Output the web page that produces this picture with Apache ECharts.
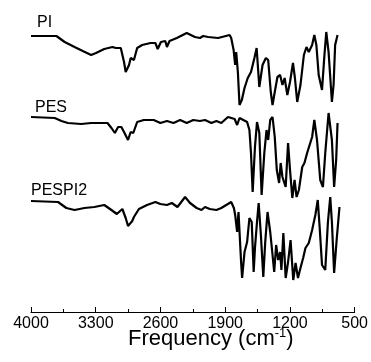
<!DOCTYPE html>
<html>
<head>
<meta charset="utf-8">
<script src="https://cdn.jsdelivr.net/npm/echarts@6/dist/echarts.min.js"></script>
<style>
  html, body { margin: 0; padding: 0; background: #fff; }
  #chart { width: 371px; height: 362px; }
</style>
</head>
<body>
<div id="chart"></div>
<script>
  // wavenumber (cm-1) / transmittance (a.u., curves stacked with offsets)
  const piWave = [4000, 3725, 3636, 3529, 3440, 3350, 3297, 3208, 3119, 3083, 3029, 2994, 2976, 2940, 2922, 2887, 2852, 2798, 2708, 2655, 2630, 2595, 2548, 2530, 2502, 2423, 2316, 2227, 2173, 2138,
    2084, 1977, 1852, 1835, 1809, 1792, 1781, 1763, 1745, 1720, 1691, 1656, 1621, 1584, 1560, 1531, 1514, 1496, 1460, 1435, 1407, 1388, 1364, 1335, 1306, 1281, 1257, 1228, 1199, 1167, 1146, 1121, 1086, 1049, 1021, 996, 960, 936, 914, 889, 853, 829, 807, 782, 746, 728, 711, 685];
  const piT = [276, 276, 270, 265, 261, 257, 259, 263, 265, 264, 264, 250, 240, 247, 254, 252, 264, 267, 269, 269, 263, 270, 271, 265, 271, 274, 279, 275, 274, 276,
    275, 274, 277, 274, 262, 247, 260, 240, 207, 212, 224, 234, 240, 254, 264, 225, 225, 247, 254, 252, 220, 207, 220, 235, 237, 227, 234, 217, 230, 249, 234, 210, 227, 257, 265, 260, 267, 277, 267, 237, 222, 254, 280, 260, 210, 227, 267, 277];

  const pesWave = [4000, 3743, 3671, 3601, 3457, 3350, 3173, 3130, 3093, 3058, 3023, 2994, 2951, 2922, 2894, 2852, 2780, 2673, 2601, 2530, 2459, 2387, 2316, 2245, 2173,
    2119, 2049, 1995, 1942, 1870, 1798, 1771, 1745, 1663, 1638, 1621, 1603, 1578, 1556, 1531, 1506, 1477, 1453, 1435, 1413, 1388, 1364, 1342, 1317, 1300, 1281, 1246, 1220, 1199, 1174, 1150, 1128, 1103, 1067, 1043, 1014, 960, 936, 907, 872, 843, 818, 782, 746, 722, 700, 685];
  const pesT = [195, 194, 191, 189, 188, 189, 189, 184, 179, 185, 185, 180, 172, 180, 179, 190, 192, 192, 189, 191, 189, 192, 189, 192, 191,
    192, 189, 191, 189, 195, 193, 187, 194, 190, 182, 159, 120, 165, 190, 179, 117, 159, 182, 172, 192, 195, 175, 142, 129, 149, 135, 125, 169, 142, 114, 132, 115, 122, 145, 149, 159, 175, 192, 172, 132, 125, 159, 199, 172, 125, 152, 189];

  const pespiWave = [4000, 3708, 3618, 3529, 3422, 3315, 3208, 3130, 3072, 3012, 2976, 2951, 2905, 2887, 2833, 2745, 2655, 2601, 2530, 2477, 2416, 2334, 2280, 2209, 2156,
    2119, 2066, 1995, 1942, 1835, 1806, 1792, 1771, 1756, 1728, 1717, 1691, 1663, 1638, 1613, 1592, 1578, 1556, 1538, 1514, 1488, 1467, 1442, 1413, 1388, 1370, 1349, 1327, 1306, 1292, 1271, 1246, 1220, 1193, 1164, 1139, 1113, 1086, 1057, 1032, 996, 960, 925, 899, 878, 853, 818, 789, 764, 746, 722, 693, 664];
  const pespiT = [111, 110, 104, 102, 104, 105, 107, 102, 98, 103, 94, 86, 91, 95, 103, 107, 110, 108, 107, 109, 105, 115, 109, 104, 102,
    105, 103, 102, 104, 110, 104, 97, 80, 100, 50, 34, 60, 70, 94, 90, 40, 64, 90, 109, 77, 35, 70, 100, 80, 57, 40, 67, 52, 60, 42, 79, 34, 50, 72, 32, 49, 34, 44, 54, 64, 69, 82, 97, 112, 84, 47, 42, 90, 115, 90, 39, 74, 105];

  const xTicks = { min: 500, max: 4000, step: 700 };
  const names = ['PI', 'PES', 'PESPI2'];

  function pairs(xs, ys) {
    return xs.map((x, i) => [x, ys[i]]);
  }

  let mychart = echarts.init(document.getElementById('chart'));
  let lineStyle = { color: '#000', width: 2.2 };
  let font = 'Liberation Sans';
  let option = {
    animation: false,
    grid: { left: 31, right: 13, top: 12, bottom: 50 },
    xAxis: {
      type: 'value',
      inverse: true,
      min: xTicks.min,
      max: xTicks.max,
      interval: xTicks.step,
      name: 'Frequency (cm{sup|-1})',
      nameLocation: 'middle',
      nameMoveOverlap: false,
      nameGap: 15,
      nameTextStyle: {
        color: '#000', fontSize: 22, fontFamily: font, verticalAlign: 'top', padding: [0, 0, 0, 36],
        rich: { sup: { fontSize: 13, verticalAlign: 'top', padding: [0, 0, 10, 0], color: '#000', fontFamily: font } }
      },
      axisLine: { lineStyle: { color: '#000', width: 1 } },
      axisTick: { inside: true, length: 5, lineStyle: { color: '#000' } },
      minorTick: { show: true, splitNumber: 2, length: 3, lineStyle: { color: '#000' } },
      splitLine: { show: false },
      axisLabel: { color: '#000', fontSize: 16, fontFamily: font, margin: 4, formatter: v => String(v) }
    },
    yAxis: { type: 'value', min: 0, max: 300, show: false },
    graphic: [
      { type: 'text', left: 37, top: 15, style: { text: names[0], fontSize: 16, fontFamily: font, fill: '#000' } },
      { type: 'text', left: 35, top: 100, style: { text: names[1], fontSize: 16, fontFamily: font, fill: '#000' } },
      { type: 'text', left: 31, top: 183, style: { text: names[2], fontSize: 16, fontFamily: font, fill: '#000' } }
    ],
    series: [
      { name: names[0], type: 'line', showSymbol: false, lineStyle: lineStyle, data: pairs(piWave, piT) },
      { name: names[1], type: 'line', showSymbol: false, lineStyle: lineStyle, data: pairs(pesWave, pesT) },
      { name: names[2], type: 'line', showSymbol: false, lineStyle: lineStyle, data: pairs(pespiWave, pespiT) }
    ]
  };
  mychart.setOption(option);
</script>
</body>
</html>
